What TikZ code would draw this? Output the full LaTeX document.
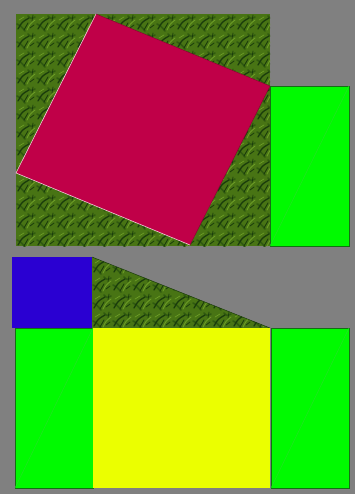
\documentclass[tikz,border=0pt]{standalone}
\definecolor{bggray}{RGB}{128,128,128}
\definecolor{leafbase}{RGB}{72,116,20}
\definecolor{leafdark}{RGB}{26,60,12}
\definecolor{leafmid}{RGB}{48,90,16}
\definecolor{leaflight}{RGB}{108,156,38}
\definecolor{crimson}{RGB}{192,0,72}
\definecolor{brightgreen}{RGB}{0,250,0}
\definecolor{diaggreen}{RGB}{30,230,30}
\definecolor{edgegreen}{RGB}{20,110,20}
\definecolor{lemon}{RGB}{235,255,0}
\definecolor{royalblue}{RGB}{42,0,210}
\tikzset{
  greenrect/.style={fill=brightgreen, draw=edgegreen, line width=0.6pt},
  diagline/.style={draw=diaggreen, line width=0.6pt},
  darkleaf/.style={draw=leafdark, line width=1.3pt, line cap=round},
  midleaf/.style={draw=leafmid, line width=1.6pt, line cap=round},
  lightleaf/.style={draw=leaflight, line width=0.9pt, line cap=round},
  rededge/.style={draw=white!80!crimson, line width=0.6pt}
}
\newcommand{\leaftiles}[4]{%
  \fill[leafbase] (#1,#2) rectangle (#3,#4);
  \foreach \i in {0,...,13} {
    \foreach \j in {0,...,13} {
      \pgfmathsetmacro{\tx}{#1+20*\i}
      \pgfmathsetmacro{\ty}{#2+18*\j}
      \draw[midleaf] (\tx+1,\ty+10) .. controls (\tx+5,\ty+12) .. (\tx+9,\ty+17);
      \draw[midleaf] (\tx+12,\ty+2) .. controls (\tx+15,\ty+5) .. (\tx+19,\ty+3);
      \draw[darkleaf] (\tx+2,\ty+15) .. controls (\tx+6,\ty+8) .. (\tx+13,\ty+4);
      \draw[darkleaf, line width=0.9pt] (\tx+8,\ty+16) -- (\tx+12,\ty+9);
      \draw[darkleaf, line width=0.8pt] (\tx+14,\ty+14) -- (\tx+18,\ty+11);
      \draw[darkleaf, line width=0.7pt] (\tx+16,\ty+7) -- (\tx+17,\ty+1);
      \draw[lightleaf] (\tx+11,\ty+16) .. controls (\tx+14,\ty+10) .. (\tx+19,\ty+6);
      \draw[lightleaf, line width=0.7pt] (\tx+3,\ty+6) -- (\tx+8,\ty+3);
    }
  }
}
\begin{document}
\begin{tikzpicture}[x=1pt,y=-1pt]
\useasboundingbox (0,0) rectangle (355,494);
\fill[bggray] (0,0) rectangle (355,494);

% ---- top figure ----
\begin{scope}
  \clip (16,14) rectangle (270,246);
  \leaftiles{16}{14}{270}{246}
\end{scope}
\coordinate (rt) at (96,14);
\coordinate (rr) at (270,86);
\coordinate (rb) at (190,245);
\coordinate (rl) at (16,173);
\fill[crimson] (rt) -- (rr) -- (rb) -- (rl) -- cycle;
\draw[rededge] (rb) -- (rl) -- (rt);
\draw[draw=crimson!70!black, line width=0.4pt] (rt) -- (rr) -- (rb);

\coordinate (g1a) at (270,86);
\coordinate (g1b) at (349,246);
\fill[greenrect] (g1a) rectangle (g1b);
\draw[diagline] (270,246) -- (349,86);

% ---- bottom figure ----
\fill[royalblue] (12,257) rectangle (92,328);
\coordinate (ta) at (92,257);
\coordinate (tb) at (92,328);
\coordinate (tc) at (270,328);
\begin{scope}
  \clip (ta) -- (tb) -- (tc) -- cycle;
  \leaftiles{92}{257}{270}{328}
\end{scope}
\draw[leafdark, line width=0.5pt] (ta) -- (tc);

\fill[greenrect] (15,328) rectangle (93,488);
\draw[diagline] (15,488) -- (93,328);
\fill[lemon] (93,328) rectangle (270,488);
\fill[greenrect] (271,328) rectangle (349,488);
\draw[diagline] (271,488) -- (349,328);
\end{tikzpicture}
\end{document}
